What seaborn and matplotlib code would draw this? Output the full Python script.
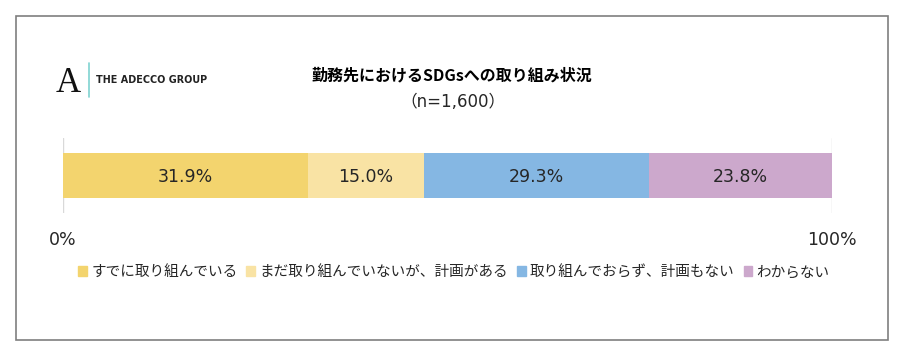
import matplotlib.pyplot as plt
import matplotlib.patches as mpatches
from matplotlib.lines import Line2D
import seaborn as sns
import pandas as pd

# chart data
categories = ["すでに取り組んでいる", "まだ取り組んでいないが、計画がある",
              "取り組んでおらず、計画もない", "わからない"]
values = [31.9, 15.0, 29.3, 23.8]
colors = ["#F3D46E", "#F9E3A4", "#85B7E3", "#CCA8CC"]
tick_values = [0, 100]
tick_labels = ["0%", "100%"]
title = "勤務先におけるSDGsへの取り組み状況"
subtitle = "（n=1,600）"

sns.set_theme(style="white")
plt.rcParams['font.family'] = ['Noto Sans CJK JP', 'DejaVu Sans']

fig = plt.figure(figsize=(9.08, 3.59), dpi=100)
ax = fig.add_axes([63 / 908, 146 / 359, 769 / 908, 75 / 359])

df = pd.DataFrame({"cat": categories, "value": values})
df["cum"] = df["value"].cumsum()

# stacked bar: draw cumulative totals from the largest down
for i in reversed(range(len(df))):
    sns.barplot(x=[df["cum"].iloc[i]], y=[""], color=colors[i], width=0.59,
                orient="h", ax=ax, saturation=1, edgecolor="none")

starts = df["cum"] - df["value"]
for s, v in zip(starts, df["value"]):
    ax.text(s + v / 2, 0.02, f"{v:.1f}%", ha="center", va="center",
            fontsize=12.5, color="#262626", fontfamily=["DejaVu Sans"])

ax.set_xlim(0, 100)
ax.set_ylim(0.5, -0.5)
ax.set_xticks(tick_values)
ax.set_xticklabels(tick_labels, fontfamily=["DejaVu Sans"], fontsize=12.5, color="#262626")
ax.tick_params(axis="x", length=0, pad=13)
ax.set_yticks([])
ax.set_xlabel("")
ax.set_ylabel("")
for sp in ax.spines.values():
    sp.set_visible(False)
for t in tick_values:
    ax.axvline(t, color="#D9D9D9", lw=1, zorder=0)

# titles
fig.text(452 / 908, 1 - 75 / 359, title, ha="center", va="center",
         fontsize=11.5, fontweight="bold", color="#000000")
fig.text(453 / 908, 1 - 102 / 359, subtitle, ha="center", va="center",
         fontsize=12, color="#262626", fontfamily=["DejaVu Sans", "Noto Sans CJK JP"])

# legend
handles = [mpatches.Patch(color=c, label=l) for c, l in zip(colors, categories)]
fig.legend(handles=handles, loc="center", bbox_to_anchor=(454 / 908, 1 - 272 / 359),
           ncol=4, frameon=False, fontsize=10.5, handlelength=0.6, handleheight=0.6,
           handletextpad=0.3, columnspacing=0.6, labelcolor="#262626")

# logo
fig.text(68 / 908, 1 - 84 / 359, "A", ha="center", va="center", fontsize=25,
         fontfamily=["Liberation Serif"], color="#111111")
fig.add_artist(Line2D([89 / 908, 89 / 908], [1 - 63 / 359, 1 - 97 / 359],
                      color="#7FD3D1", lw=1.2))
fig.text(96 / 908, 1 - 80 / 359, "THE ADECCO GROUP", ha="left", va="center",
         fontsize=6.9, fontweight="bold", fontfamily=["DejaVu Sans"], color="#222222")

# outer frame
fig.add_artist(mpatches.Rectangle((16 / 908, 19 / 359), 872 / 908, 324 / 359,
                                  fill=False, edgecolor="#7F7F7F", lw=1.2,
                                  transform=fig.transFigure))

fig.savefig("out.png", dpi=100)
